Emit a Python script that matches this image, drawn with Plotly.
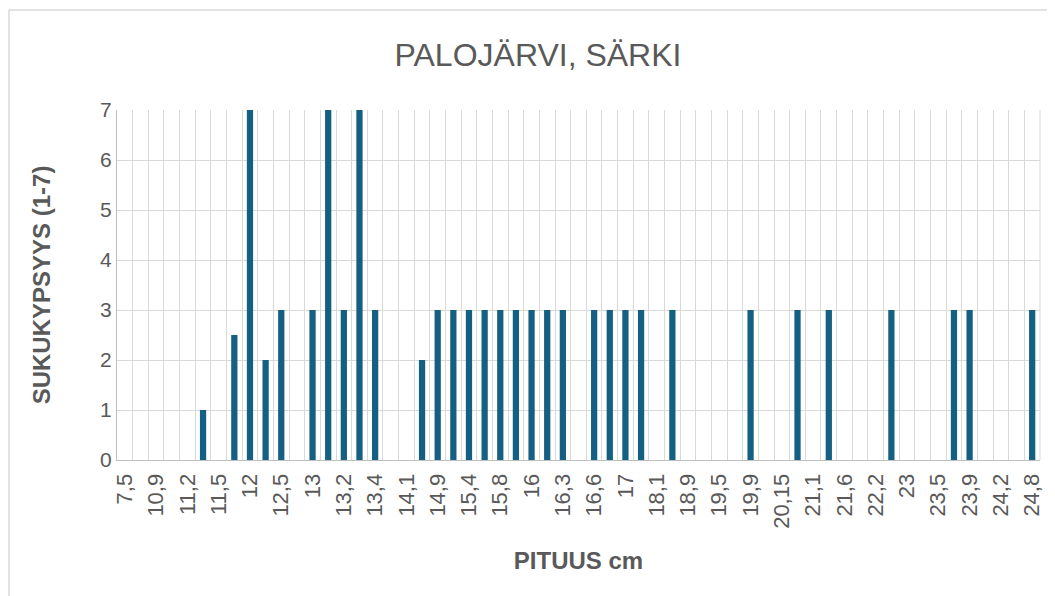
import plotly.graph_objects as go

# Category labels (length in cm); every other label is displayed on the axis
categories = [
    "7,5", "10,5", "10,9", "11", "11,2", "11,3", "11,5", "11,8", "12", "12,3",
    "12,5", "12,8", "13", "13,1", "13,2", "13,3", "13,4", "13,8", "14,1", "14,5",
    "14,9", "15", "15,4", "15,5", "15,8", "15,9", "16", "16,2", "16,3", "16,5",
    "16,6", "16,8", "17", "17,5", "18,1", "18,5", "18,9", "19,2", "19,5", "19,7",
    "19,9", "20", "20,15", "20,5", "21,1", "21,5", "21,6", "22", "22,2", "22,5",
    "23", "23,2", "23,5", "23,8", "23,9", "24", "24,2", "24,5", "24,8",
]

# Maturity stage (1-7); None = no value
values = [
    None, None, None, None, None, 1, None, 2.5, 7, 2,
    3, None, 3, 7, 3, 7, 3, None, None, 2,
    3, 3, 3, 3, 3, 3, 3, 3, 3, None,
    3, 3, 3, 3, None, 3, None, None, None, None,
    3, None, None, 3, None, 3, None, None, None, 3,
    None, None, None, 3, 3, None, None, None, 3,
]

title_text = "PALOJÄRVI, SÄRKI"
x_title = "PITUUS cm"
y_title = "SUKUKYPSYYS (1-7)"

tick_text = [c if i % 2 == 0 else "" for i, c in enumerate(categories)]

FONT = "Liberation Sans, Arial, sans-serif"
TXT = "#595959"
GRID = "#d9d9d9"

# page is offset by the 8px body margin
W, H = 1047, 588
PL, PR, PT, PB = 109, 1032, 102, 452  # plot area in figure pixels

fig = go.Figure(
    go.Bar(
        x=categories,
        y=values,
        marker=dict(color="#156082", line=dict(width=0)),
        hoverinfo="x+y",
    )
)

fig.update_layout(
    width=W,
    height=H,
    autosize=False,
    margin=dict(l=PL, r=W - PR, t=PT, b=H - PB, autoexpand=False),
    paper_bgcolor="white",
    plot_bgcolor="white",
    bargap=0.6,
    showlegend=False,
    font=dict(family=FONT, color=TXT),
    title=dict(
        text=title_text,
        font=dict(family=FONT, size=32, color=TXT),
        x=530 / W,
        xref="container",
        xanchor="center",
        y=1 - 47 / H,
        yref="container",
        yanchor="middle",
    ),
)

fig.update_xaxes(
    type="category",
    categoryorder="array",
    categoryarray=categories,
    tickmode="array",
    tickvals=categories,
    ticktext=tick_text,
    tickson="boundaries",
    ticks="",
    tickangle=-90,
    ticklabelstandoff=4,
    tickfont=dict(size=22, color=TXT, family=FONT),
    showgrid=True,
    gridcolor=GRID,
    gridwidth=1,
    showline=True,
    linecolor="#bfbfbf",
    linewidth=1,
    mirror=False,
    range=[-0.5, len(categories) - 0.5],
    title=dict(text="<b>" + x_title + "</b>", font=dict(size=24, color=TXT, family=FONT), standoff=24),
    fixedrange=True,
)

fig.update_yaxes(
    range=[0, 7],
    dtick=1,
    tick0=0,
    ticks="",
    tickfont=dict(size=21, color=TXT, family=FONT),
    showgrid=True,
    gridcolor=GRID,
    gridwidth=1,
    showline=True,
    linecolor="#bfbfbf",
    linewidth=1,
    mirror=False,
    zeroline=False,
    title=dict(text="<b>" + y_title + "</b>", font=dict(size=24, color=TXT, family=FONT), standoff=42),
    fixedrange=True,
)

pw, ph = PR - PL, PB - PT
# Right edge gridline of the plot area and chart border
fig.add_shape(type="line", xref="paper", yref="paper", x0=1, x1=1, y0=0, y1=1,
              line=dict(color=GRID, width=1), layer="below")
fig.add_shape(type="line", xref="paper", yref="paper",
              x0=(1 - PL) / pw, x1=(W - PL) / pw, y0=(PB - 2) / ph, y1=(PB - 2) / ph,
              line=dict(color=GRID, width=1.5))
fig.add_shape(type="line", xref="paper", yref="paper",
              x0=(1 - PL) / pw, x1=(1 - PL) / pw, y0=(PB - 2) / ph, y1=(PB - H - 5) / ph,
              line=dict(color=GRID, width=1.5))

fig.write_html("out.html")
